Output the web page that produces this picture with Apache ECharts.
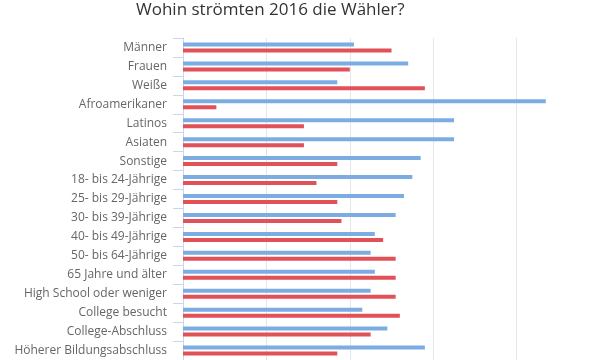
<!DOCTYPE html>
<html><head><meta charset="utf-8">
<script src="https://cdn.jsdelivr.net/npm/echarts@6/dist/echarts.min.js"></script>
<style>html,body{margin:0;padding:0;background:#fff}#c{width:600px;height:360px}</style>
</head><body><div id="c"></div>
<script>
const categories = ["Männer","Frauen","Weiße","Afroamerikaner","Latinos","Asiaten","Sonstige","18- bis 24-Jährige","25- bis 29-Jährige","30- bis 39-Jährige","40- bis 49-Jährige","50- bis 64-Jährige","65 Jahre und älter","High School oder weniger","College besucht","College-Abschluss","Höherer Bildungsabschluss"];
const clinton = [41,54,37,87,65,65,57,55,53,51,46,45,46,45,43,49,58];
const trump   = [50,40,58,8,29,29,37,32,37,38,48,51,51,51,52,45,37];
const xTicks = [0,20,40,60,80,100];

const chart = echarts.init(document.getElementById('c'));
chart.setOption({
  animation:false,
  title:{text:'Wohin strömten 2016 die Wähler?',left:131,top:-3,
    textStyle:{fontFamily:'Open Sans',fontSize:17,fontWeight:'normal',color:'#333'}},
  grid:{left:183,top:38,width:418,height:326,containLabel:false},
  xAxis:{type:'value',min:xTicks[0],max:xTicks[xTicks.length-1],interval:20,
    axisLabel:{show:false},axisLine:{show:false},axisTick:{show:false},
    splitLine:{lineStyle:{color:'#e6e6e6',width:1}}},
  yAxis:{type:'category',data:categories,inverse:true,
    axisLine:{show:true,lineStyle:{color:'#ccd6eb'}},
    axisTick:{show:true,length:10,lineStyle:{color:'#ccd6eb'}},
    axisLabel:{margin:16,fontFamily:'Open Sans',fontSize:12,color:'#666'}},
  series:[
    {name:'Clinton',type:'bar',data:clinton,barWidth:4,barGap:'50%',itemStyle:{color:'#7cade2'}},
    {name:'Trump',type:'bar',data:trump,barWidth:4,barGap:'50%',itemStyle:{color:'#e05158'}}
  ]
});
</script></body></html>
